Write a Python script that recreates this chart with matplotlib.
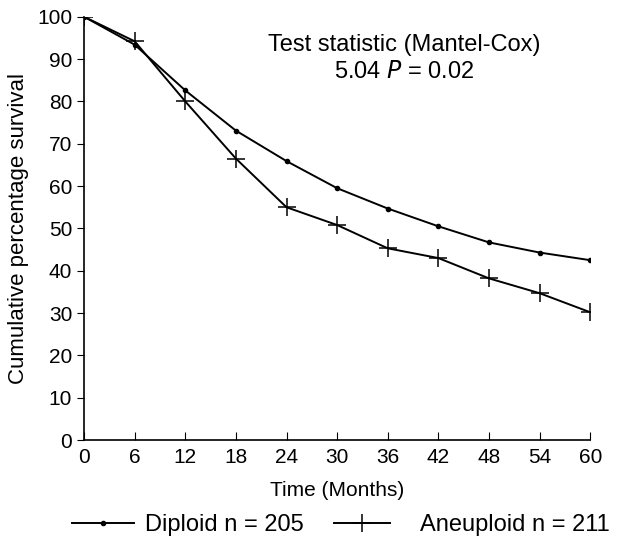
import matplotlib
matplotlib.use('Agg')
import matplotlib.pyplot as plt

plt.rcParams['font.family'] = ['Liberation Sans', 'DejaVu Sans']

months = [0, 6, 12, 18, 24, 30, 36, 42, 48, 54, 60]
diploid = [100, 93.4, 82.6, 73.1, 65.9, 59.5, 54.7, 50.5, 46.7, 44.3, 42.5]
aneuploid = [100, 94.2, 80.0, 66.5, 55.0, 50.8, 45.3, 43.0, 38.2, 34.7, 30.2]
yticks = [0, 10, 20, 30, 40, 50, 60, 70, 80, 90, 100]

fig = plt.figure(figsize=(6.18, 5.4), dpi=100)
ax = fig.add_axes([0.136, 0.185, 0.819, 0.784])

h1, = ax.plot(months, diploid, color='black', lw=1.4, marker='o', ms=3,
              label='Diploid n = 205')
h2, = ax.plot(months, aneuploid, color='black', lw=1.4, marker='+', ms=13,
              mew=1.1, label='Aneuploid n = 211')

ax.set_xlim(0, 60)
ax.set_ylim(0, 100)
ax.set_xticks(months)
ax.set_yticks(yticks)
ax.spines['top'].set_visible(False)
ax.spines['right'].set_visible(False)
ax.spines['left'].set_linewidth(1.2)
ax.spines['bottom'].set_linewidth(1.2)
ax.tick_params(axis='x', direction='in', length=6, labelsize=15, pad=6)
ax.tick_params(axis='y', direction='out', length=5, labelsize=15)
ax.set_xlabel('Time (Months)', fontsize=15, labelpad=10)
ax.set_ylabel('Cumulative percentage survival', fontsize=16, labelpad=6)

ax.text(38, 93.4, 'Test statistic (Mantel-Cox)', ha='center', va='center',
        fontsize=17)
ax.text(38, 87.0, '5.04 $\\it{P}$ = 0.02', ha='center', va='center',
        fontsize=17)

fig.legend(handles=[h1], loc='center left', bbox_to_anchor=(0.117, 0.028),
           frameon=False, fontsize=17, handlelength=2.6,
           handletextpad=0.47, borderpad=0, borderaxespad=0)
fig.legend(handles=[h2], loc='center left', bbox_to_anchor=(0.540, 0.028),
           frameon=False, fontsize=17, handlelength=2.4,
           handletextpad=1.27, borderpad=0, borderaxespad=0)

fig.savefig('out.png', dpi=100)
